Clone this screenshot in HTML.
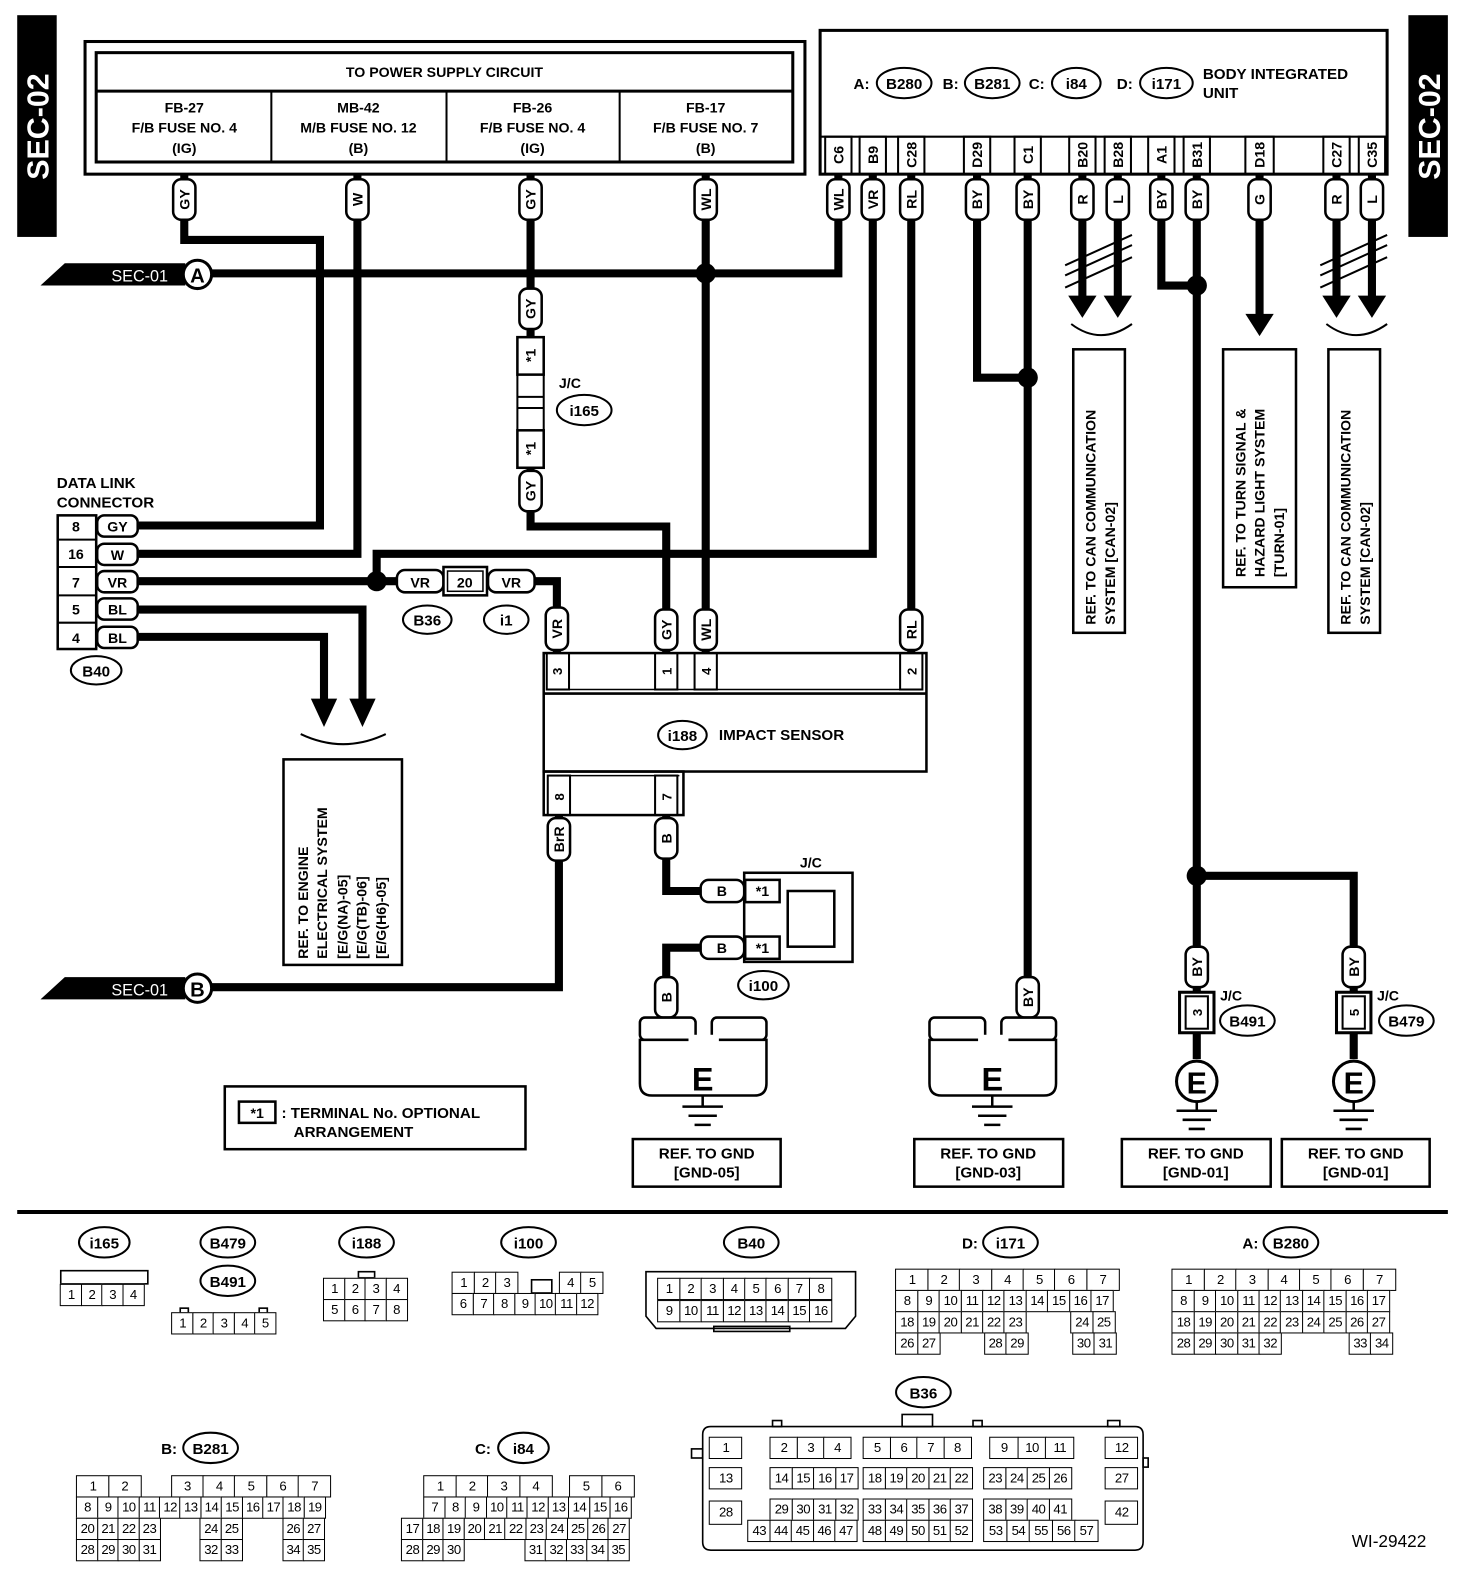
<!DOCTYPE html>
<html><head><meta charset="utf-8"><style>
html,body{margin:0;padding:0;background:#fff;width:1472px;height:1584px;overflow:hidden}
#w{position:absolute;left:0;top:0;width:1472px;height:1565px;transform:scale(1.0125,1.0125);transform-origin:0 0;font-family:"Liberation Sans",sans-serif}
svg{position:absolute;left:0;top:0}
text{font-family:"Liberation Sans",sans-serif;font-weight:bold;fill:#000}
.r{position:absolute;display:flex;height:21px}
.r span{display:block;box-sizing:border-box;height:22px;border:1.6px solid #000;margin-left:-1.6px;text-align:center;font-size:13px;line-height:19px;font-family:"Liberation Sans",sans-serif;background:#fff;letter-spacing:-0.5px}
.r span.g{border:none;background:transparent}
</style></head><body><div id="w">
<svg width="1472" height="1565" viewBox="0 0 1472 1565">
<defs>
<g id="gl"><line x1="-20" y1="0" x2="20" y2="0" stroke="#000" stroke-width="2.5"/><line x1="-14" y1="9" x2="14" y2="9" stroke="#000" stroke-width="2.5"/><line x1="-8" y1="18" x2="8" y2="18" stroke="#000" stroke-width="2.5"/></g>
</defs>
<rect x="17" y="15" width="39" height="219" fill="#000"/>
<text transform="translate(48,125) rotate(-90)" text-anchor="middle" font-size="30" style="fill:#fff">SEC-02</text>
<rect x="1391" y="15" width="39" height="219" fill="#000"/>
<text transform="translate(1422,125) rotate(-90)" text-anchor="middle" font-size="30" style="fill:#fff">SEC-02</text>

<rect x="84" y="41" width="711" height="131" fill="none" stroke="#000" stroke-width="3"/>
<rect x="95" y="52" width="688" height="108" fill="none" stroke="#000" stroke-width="3"/>
<line x1="95" y1="90" x2="783" y2="90" stroke="#000" stroke-width="3"/>
<line x1="268" y1="90" x2="268" y2="160" stroke="#000" stroke-width="2"/>
<line x1="441" y1="90" x2="441" y2="160" stroke="#000" stroke-width="2"/>
<line x1="612" y1="90" x2="612" y2="160" stroke="#000" stroke-width="2"/>
<g font-size="14" text-anchor="middle">
<text x="439" y="76">TO POWER SUPPLY CIRCUIT</text>
<text x="182" y="111">FB-27</text><text x="182" y="131">F/B FUSE NO. 4</text><text x="182" y="151">(IG)</text>
<text x="354" y="111">MB-42</text><text x="354" y="131">M/B FUSE NO. 12</text><text x="354" y="151">(B)</text>
<text x="526" y="111">FB-26</text><text x="526" y="131">F/B FUSE NO. 4</text><text x="526" y="151">(IG)</text>
<text x="697" y="111">FB-17</text><text x="697" y="131">F/B FUSE NO. 7</text><text x="697" y="151">(B)</text>
</g>

<rect x="810" y="30" width="560" height="142" fill="none" stroke="#000" stroke-width="3"/>
<line x1="810" y1="135" x2="1370" y2="135" stroke="#000" stroke-width="2"/>
<g font-size="15">
<text x="843" y="88">A:</text><ellipse cx="893" cy="82" rx="27" ry="15" fill="none" stroke="#000" stroke-width="2"/><text x="893" y="88" text-anchor="middle">B280</text>
<text x="931" y="88">B:</text><ellipse cx="980" cy="82" rx="27" ry="15" fill="none" stroke="#000" stroke-width="2"/><text x="980" y="88" text-anchor="middle">B281</text>
<text x="1016" y="88">C:</text><ellipse cx="1063" cy="82" rx="24" ry="15" fill="none" stroke="#000" stroke-width="2"/><text x="1063" y="88" text-anchor="middle">i84</text>
<text x="1103" y="88">D:</text><ellipse cx="1152" cy="82" rx="26" ry="15" fill="none" stroke="#000" stroke-width="2"/><text x="1152" y="88" text-anchor="middle">i171</text>
<text x="1188" y="78">BODY INTEGRATED</text><text x="1188" y="97">UNIT</text>
</g>
<g fill="none" stroke="#000" stroke-width="2">
<rect x="815" y="135" width="26" height="37"/><rect x="849" y="135" width="26" height="37"/><rect x="887" y="135" width="26" height="37"/>
<rect x="952" y="135" width="26" height="37"/><rect x="1002" y="135" width="26" height="37"/><rect x="1056" y="135" width="26" height="37"/>
<rect x="1091" y="135" width="26" height="37"/><rect x="1134" y="135" width="26" height="37"/><rect x="1169" y="135" width="26" height="37"/>
<rect x="1230" y="135" width="28" height="37"/><rect x="1307" y="135" width="26" height="37"/><rect x="1342" y="135" width="26" height="37"/>
</g>
<g font-size="14" text-anchor="middle">
<text transform="translate(833,153) rotate(-90)">C6</text><text transform="translate(867,153) rotate(-90)">B9</text><text transform="translate(905,153) rotate(-90)">C28</text>
<text transform="translate(970,153) rotate(-90)">D29</text><text transform="translate(1020,153) rotate(-90)">C1</text><text transform="translate(1074,153) rotate(-90)">B20</text>
<text transform="translate(1109,153) rotate(-90)">B28</text><text transform="translate(1152,153) rotate(-90)">A1</text><text transform="translate(1187,153) rotate(-90)">B31</text>
<text transform="translate(1249,153) rotate(-90)">D18</text><text transform="translate(1325,153) rotate(-90)">C27</text><text transform="translate(1360,153) rotate(-90)">C35</text>
</g>

<g fill="none" stroke="#000" stroke-width="8" stroke-linejoin="miter">
<path d="M182,172 V237 H316 V519 H137"/>
<path d="M353,172 V547 H137"/>
<path d="M524,172 V335"/>
<path d="M524,460 V520 H658 V645"/>
<path d="M697,172 V645"/>
<path d="M180,270 H828 V172"/>
<path d="M862,172 V547 H372 V574"/>
<path d="M900,172 V645"/>
<path d="M137,574 H392"/>
<path d="M528,574 H550 V645"/>
<path d="M137,602 H358 V692"/>
<path d="M137,629 H320 V692"/>
<path d="M552,805 V975 H180"/>
<path d="M658,805 V880 H692"/>
<path d="M692,936 H658 V1005"/>
<path d="M965,172 V373 H1015"/>
<path d="M1015,172 V1005"/>
<path d="M1069,172 V295"/><path d="M1104,172 V295"/>
<path d="M1147,172 V282 H1182"/>
<path d="M1182,172 V865 H1337 V980"/>
<path d="M1182,865 V980"/>
<path d="M1244,172 V312"/>
<path d="M1320,172 V295"/><path d="M1355,172 V295"/>
<path d="M1182,1020 V1046"/><path d="M1337,1020 V1046"/>
</g>
<g fill="#000">
<circle cx="697" cy="270" r="10"/><circle cx="372" cy="574" r="10"/><circle cx="1015" cy="373" r="10"/>
<circle cx="1182" cy="282" r="10"/><circle cx="1182" cy="865" r="10"/>
<polygon points="345,690 371,690 358,718"/><polygon points="307,690 333,690 320,718"/>
<polygon points="1055,292 1083,292 1069,314"/><polygon points="1090,292 1118,292 1104,314"/>
<polygon points="1230,310 1258,310 1244,332"/>
<polygon points="1306,292 1334,292 1320,314"/><polygon points="1341,292 1369,292 1355,314"/>
</g>
<g fill="none" stroke="#000" stroke-width="2">
<path d="M297,725 Q339,745 381,725"/>
<path d="M1058,320 Q1087,342 1118,320"/>
<path d="M1310,320 Q1339,342 1370,320"/>
<path d="M1052,262 L1118,232 M1052,272 L1118,242 M1052,284 L1118,254"/>
<path d="M1304,262 L1370,232 M1304,272 L1370,242 M1304,284 L1370,254"/>
</g>

<polygon points="40,282 64,260 183,260 183,282" fill="#000"/>
<text x="138" y="278" font-size="16" text-anchor="middle" style="fill:#fff;font-weight:normal">SEC-01</text>
<circle cx="195" cy="271" r="14" fill="#fff" stroke="#000" stroke-width="3"/><text x="195" y="279" font-size="20" text-anchor="middle">A</text>
<polygon points="40,987 64,965 183,965 183,987" fill="#000"/>
<text x="138" y="983" font-size="16" text-anchor="middle" style="fill:#fff;font-weight:normal">SEC-01</text>
<circle cx="195" cy="976" r="14" fill="#fff" stroke="#000" stroke-width="3"/><text x="195" y="984" font-size="20" text-anchor="middle">B</text>

<g fill="#fff" stroke="#000" stroke-width="2.5">
<rect x="171" y="177" width="22" height="40" rx="8"/><rect x="342" y="177" width="22" height="40" rx="8"/>
<rect x="513" y="177" width="22" height="40" rx="8"/><rect x="686" y="177" width="22" height="40" rx="8"/>
<rect x="817" y="177" width="22" height="40" rx="8"/><rect x="851" y="177" width="22" height="40" rx="8"/>
<rect x="889" y="177" width="22" height="40" rx="8"/><rect x="954" y="177" width="22" height="40" rx="8"/>
<rect x="1004" y="177" width="22" height="40" rx="8"/><rect x="1058" y="177" width="22" height="40" rx="8"/>
<rect x="1093" y="177" width="22" height="40" rx="8"/><rect x="1136" y="177" width="22" height="40" rx="8"/>
<rect x="1171" y="177" width="22" height="40" rx="8"/><rect x="1233" y="177" width="22" height="40" rx="8"/>
<rect x="1309" y="177" width="22" height="40" rx="8"/><rect x="1344" y="177" width="22" height="40" rx="8"/>
<rect x="513" y="285" width="22" height="40" rx="8"/><rect x="513" y="465" width="22" height="40" rx="8"/>
<rect x="539" y="600" width="22" height="42" rx="8"/><rect x="647" y="602" width="22" height="40" rx="8"/>
<rect x="686" y="602" width="22" height="40" rx="8"/><rect x="889" y="602" width="22" height="40" rx="8"/>
<rect x="541" y="808" width="22" height="42" rx="8"/><rect x="647" y="808" width="22" height="40" rx="8"/>
<rect x="647" y="965" width="22" height="40" rx="8"/><rect x="1004" y="965" width="22" height="40" rx="8"/>
<rect x="1171" y="935" width="22" height="40" rx="8"/><rect x="1326" y="935" width="22" height="40" rx="8"/>
</g>
<g font-size="14" text-anchor="middle">
<text transform="translate(187,197) rotate(-90)">GY</text><text transform="translate(358,197) rotate(-90)">W</text>
<text transform="translate(529,197) rotate(-90)">GY</text><text transform="translate(702,197) rotate(-90)">WL</text>
<text transform="translate(833,197) rotate(-90)">WL</text><text transform="translate(867,197) rotate(-90)">VR</text>
<text transform="translate(905,197) rotate(-90)">RL</text><text transform="translate(970,197) rotate(-90)">BY</text>
<text transform="translate(1020,197) rotate(-90)">BY</text><text transform="translate(1074,197) rotate(-90)">R</text>
<text transform="translate(1109,197) rotate(-90)">L</text><text transform="translate(1152,197) rotate(-90)">BY</text>
<text transform="translate(1187,197) rotate(-90)">BY</text><text transform="translate(1249,197) rotate(-90)">G</text>
<text transform="translate(1325,197) rotate(-90)">R</text><text transform="translate(1360,197) rotate(-90)">L</text>
<text transform="translate(529,305) rotate(-90)">GY</text><text transform="translate(529,485) rotate(-90)">GY</text>
<text transform="translate(555,621) rotate(-90)">VR</text><text transform="translate(663,622) rotate(-90)">GY</text>
<text transform="translate(702,622) rotate(-90)">WL</text><text transform="translate(905,622) rotate(-90)">RL</text>
<text transform="translate(557,829) rotate(-90)">BrR</text><text transform="translate(663,828) rotate(-90)">B</text>
<text transform="translate(663,985) rotate(-90)">B</text><text transform="translate(1020,985) rotate(-90)">BY</text>
<text transform="translate(1187,955) rotate(-90)">BY</text><text transform="translate(1342,955) rotate(-90)">BY</text>
</g>

<g fill="#fff" stroke="#000" stroke-width="2.5">
<rect x="511" y="333" width="26" height="37"/><rect x="511" y="425" width="26" height="37"/>
</g>
<line x1="511" y1="370" x2="511" y2="425" stroke="#000" stroke-width="2"/><line x1="537" y1="370" x2="537" y2="425" stroke="#000" stroke-width="2"/>
<line x1="511" y1="392" x2="537" y2="392" stroke="#000" stroke-width="2"/><line x1="511" y1="403" x2="537" y2="403" stroke="#000" stroke-width="2"/>
<text transform="translate(529,351) rotate(-90)" font-size="14" text-anchor="middle">*1</text>
<text transform="translate(529,443) rotate(-90)" font-size="14" text-anchor="middle">*1</text>
<text x="552" y="383" font-size="14">J/C</text>
<ellipse cx="577" cy="405" rx="27" ry="15" fill="none" stroke="#000" stroke-width="2"/><text x="577" y="411" font-size="15" text-anchor="middle">i165</text>

<text x="56" y="482" font-size="15">DATA LINK</text><text x="56" y="501" font-size="15">CONNECTOR</text>
<rect x="57" y="509" width="38" height="132" fill="none" stroke="#000" stroke-width="2.5"/>
<g stroke="#000" stroke-width="2"><line x1="57" y1="533" x2="95" y2="533"/><line x1="57" y1="560" x2="95" y2="560"/><line x1="57" y1="588" x2="95" y2="588"/><line x1="57" y1="615" x2="95" y2="615"/></g>
<g fill="#fff" stroke="#000" stroke-width="2.5">
<rect x="96" y="509" width="40" height="21" rx="7"/><rect x="96" y="537" width="40" height="21" rx="7"/><rect x="96" y="564" width="40" height="21" rx="7"/>
<rect x="96" y="591" width="40" height="21" rx="7"/><rect x="96" y="619" width="40" height="21" rx="7"/>
</g>
<g font-size="14" text-anchor="middle">
<text x="75" y="525">8</text><text x="75" y="552">16</text><text x="75" y="580">7</text><text x="75" y="607">5</text><text x="75" y="635">4</text>
<text x="116" y="525">GY</text><text x="116" y="553">W</text><text x="116" y="580">VR</text><text x="116" y="607">BL</text><text x="116" y="635">BL</text>
</g>
<ellipse cx="95" cy="662" rx="25" ry="14" fill="none" stroke="#000" stroke-width="2"/><text x="95" y="668" font-size="15" text-anchor="middle">B40</text>

<g fill="#fff" stroke="#000" stroke-width="2.5">
<rect x="392" y="563" width="46" height="22" rx="8"/><rect x="482" y="563" width="46" height="22" rx="8"/>
<rect x="438" y="560" width="43" height="28"/></g>
<rect x="442" y="564" width="35" height="20" fill="none" stroke="#000" stroke-width="1.5"/>
<g font-size="14" text-anchor="middle"><text x="415" y="580">VR</text><text x="459" y="580">20</text><text x="505" y="580">VR</text></g>
<ellipse cx="422" cy="612" rx="24" ry="14" fill="none" stroke="#000" stroke-width="2"/><text x="422" y="618" font-size="15" text-anchor="middle">B36</text>
<ellipse cx="500" cy="612" rx="22" ry="14" fill="none" stroke="#000" stroke-width="2"/><text x="500" y="618" font-size="15" text-anchor="middle">i1</text>

<rect x="280" y="750" width="117" height="203" fill="none" stroke="#000" stroke-width="2.5"/>
<g font-size="14">
<text transform="translate(304,947) rotate(-90)">REF. TO ENGINE</text>
<text transform="translate(323,947) rotate(-90)">ELECTRICAL SYSTEM</text>
<text transform="translate(343,947) rotate(-90)">[E/G(NA)-05]</text>
<text transform="translate(362,947) rotate(-90)">[E/G(TB)-06]</text>
<text transform="translate(381,947) rotate(-90)">[E/G(H6)-05]</text>
</g>

<rect x="537" y="645" width="378" height="117" fill="none" stroke="#000" stroke-width="2.5"/>
<line x1="537" y1="685" x2="915" y2="685" stroke="#000" stroke-width="2.5"/>
<line x1="541" y1="681" x2="911" y2="681" stroke="#000" stroke-width="1.5"/>
<g fill="none" stroke="#000" stroke-width="2"><rect x="540" y="645" width="22" height="36"/><rect x="647" y="645" width="22" height="36"/><rect x="686" y="645" width="22" height="36"/><rect x="889" y="645" width="22" height="36"/></g>
<rect x="537" y="762" width="138" height="43" fill="none" stroke="#000" stroke-width="2.5"/>
<line x1="541" y1="766" x2="671" y2="766" stroke="#000" stroke-width="1.5"/>
<g fill="none" stroke="#000" stroke-width="2"><rect x="541" y="766" width="22" height="39"/><rect x="647" y="766" width="22" height="39"/></g>
<g font-size="13" text-anchor="middle">
<text transform="translate(555,663) rotate(-90)">3</text><text transform="translate(663,663) rotate(-90)">1</text>
<text transform="translate(702,663) rotate(-90)">4</text><text transform="translate(905,663) rotate(-90)">2</text>
<text transform="translate(557,787) rotate(-90)">8</text><text transform="translate(663,787) rotate(-90)">7</text>
</g>
<ellipse cx="674" cy="726" rx="24" ry="14" fill="none" stroke="#000" stroke-width="2"/><text x="674" y="732" font-size="15" text-anchor="middle">i188</text>
<text x="710" y="731" font-size="15">IMPACT SENSOR</text>

<rect x="735" y="862" width="107" height="88" fill="none" stroke="#000" stroke-width="2.5"/>
<rect x="778" y="880" width="46" height="55" fill="none" stroke="#000" stroke-width="2.5"/>
<g fill="#fff" stroke="#000" stroke-width="2.5">
<rect x="692" y="869" width="43" height="22" rx="8"/><rect x="692" y="925" width="43" height="22" rx="8"/>
<rect x="736" y="869" width="34" height="22"/><rect x="736" y="925" width="34" height="22"/></g>
<g font-size="14" text-anchor="middle"><text x="713" y="885">B</text><text x="713" y="941">B</text><text x="753" y="885">*1</text><text x="753" y="941">*1</text></g>
<text x="790" y="857" font-size="14">J/C</text>
<ellipse cx="754" cy="973" rx="25" ry="14" fill="none" stroke="#000" stroke-width="2"/><text x="754" y="979" font-size="15" text-anchor="middle">i100</text>

<g fill="#fff" stroke="#000" stroke-width="2.5">
<rect x="632" y="1005" width="55" height="22" rx="5"/><rect x="703" y="1005" width="54" height="22" rx="5"/>
<path d="M632,1027 H757 V1070 Q757,1082 745,1082 H644 Q632,1082 632,1070 Z"/>
<rect x="918" y="1005" width="55" height="22" rx="5"/><rect x="989" y="1005" width="54" height="22" rx="5"/>
<path d="M918,1027 H1043 V1070 Q1043,1082 1031,1082 H930 Q918,1082 918,1070 Z"/>
</g>
<rect x="680" y="1022" width="30" height="10" fill="#fff"/><rect x="966" y="1022" width="30" height="10" fill="#fff"/>
<text x="694" y="1077" font-size="32" text-anchor="middle">E</text>
<text x="980" y="1077" font-size="32" text-anchor="middle">E</text>
<use href="#gl" x="694" y="1093"/><use href="#gl" x="980" y="1093"/>
<use href="#gl" x="1182" y="1097"/><use href="#gl" x="1337" y="1097"/>
<line x1="694" y1="1082" x2="694" y2="1093" stroke="#000" stroke-width="2.5"/>
<line x1="980" y1="1082" x2="980" y2="1093" stroke="#000" stroke-width="2.5"/>
<line x1="1182" y1="1088" x2="1182" y2="1097" stroke="#000" stroke-width="2.5"/>
<line x1="1337" y1="1088" x2="1337" y2="1097" stroke="#000" stroke-width="2.5"/>

<g fill="#fff" stroke="#000" stroke-width="3">
<circle cx="1182" cy="1068" r="20"/><circle cx="1337" cy="1068" r="20"/>
<rect x="1165" y="980" width="34" height="40"/><rect x="1320" y="980" width="34" height="40"/></g>
<rect x="1171" y="984" width="22" height="32" fill="none" stroke="#000" stroke-width="2"/>
<rect x="1326" y="984" width="22" height="32" fill="none" stroke="#000" stroke-width="2"/>
<text transform="translate(1187,1000) rotate(-90)" font-size="13" text-anchor="middle">3</text>
<text transform="translate(1342,1000) rotate(-90)" font-size="13" text-anchor="middle">5</text>
<text x="1182" y="1080" font-size="30" text-anchor="middle">E</text>
<text x="1337" y="1080" font-size="30" text-anchor="middle">E</text>
<text x="1205" y="988" font-size="14">J/C</text><text x="1360" y="988" font-size="14">J/C</text>
<ellipse cx="1232" cy="1008" rx="27" ry="15" fill="none" stroke="#000" stroke-width="2"/><text x="1232" y="1014" font-size="15" text-anchor="middle">B491</text>
<ellipse cx="1389" cy="1008" rx="27" ry="15" fill="none" stroke="#000" stroke-width="2"/><text x="1389" y="1014" font-size="15" text-anchor="middle">B479</text>

<g fill="none" stroke="#000" stroke-width="2.5">
<rect x="625" y="1125" width="146" height="47"/><rect x="903" y="1125" width="147" height="47"/>
<rect x="1108" y="1125" width="147" height="47"/><rect x="1266" y="1125" width="146" height="47"/></g>
<g font-size="15" text-anchor="middle">
<text x="698" y="1144">REF. TO GND</text><text x="698" y="1163">[GND-05]</text>
<text x="976" y="1144">REF. TO GND</text><text x="976" y="1163">[GND-03]</text>
<text x="1181" y="1144">REF. TO GND</text><text x="1181" y="1163">[GND-01]</text>
<text x="1339" y="1144">REF. TO GND</text><text x="1339" y="1163">[GND-01]</text>
</g>

<g fill="none" stroke="#000" stroke-width="2.5">
<rect x="1060" y="345" width="51" height="280"/><rect x="1208" y="345" width="72" height="235"/><rect x="1312" y="345" width="51" height="280"/></g>
<g font-size="14">
<text transform="translate(1082,617) rotate(-90)">REF. TO CAN COMMUNICATION</text>
<text transform="translate(1101,617) rotate(-90)">SYSTEM [CAN-02]</text>
<text transform="translate(1230,570) rotate(-90)">REF. TO TURN SIGNAL &amp;</text>
<text transform="translate(1249,570) rotate(-90)">HAZARD LIGHT SYSTEM</text>
<text transform="translate(1268,570) rotate(-90)">[TURN-01]</text>
<text transform="translate(1334,617) rotate(-90)">REF. TO CAN COMMUNICATION</text>
<text transform="translate(1353,617) rotate(-90)">SYSTEM [CAN-02]</text>
</g>

<rect x="222" y="1073" width="297" height="62" fill="none" stroke="#000" stroke-width="2.5"/>
<rect x="236" y="1088" width="36" height="21" fill="none" stroke="#000" stroke-width="2.5"/>
<text x="254" y="1104" font-size="14" text-anchor="middle">*1</text>
<text x="278" y="1104" font-size="15">: TERMINAL No. OPTIONAL</text>
<text x="290" y="1123" font-size="15">ARRANGEMENT</text>

<line x1="17" y1="1197" x2="1430" y2="1197" stroke="#000" stroke-width="4"/>

<g font-size="15" text-anchor="middle" fill="none">
<ellipse cx="103" cy="1227" rx="25" ry="15" stroke="#000" stroke-width="2" fill="none"/><text x="103" y="1233">i165</text>
<ellipse cx="225" cy="1227" rx="27" ry="15" stroke="#000" stroke-width="2" fill="none"/><text x="225" y="1233">B479</text>
<ellipse cx="225" cy="1265" rx="27" ry="15" stroke="#000" stroke-width="2" fill="none"/><text x="225" y="1271">B491</text>
<ellipse cx="362" cy="1227" rx="27" ry="15" stroke="#000" stroke-width="2" fill="none"/><text x="362" y="1233">i188</text>
<ellipse cx="522" cy="1227" rx="27" ry="15" stroke="#000" stroke-width="2" fill="none"/><text x="522" y="1233">i100</text>
<ellipse cx="742" cy="1227" rx="27" ry="15" stroke="#000" stroke-width="2" fill="none"/><text x="742" y="1233">B40</text>
<text x="958" y="1233">D:</text><ellipse cx="998" cy="1227" rx="27" ry="15" stroke="#000" stroke-width="2" fill="none"/><text x="998" y="1233">i171</text>
<text x="1235" y="1233">A:</text><ellipse cx="1275" cy="1227" rx="27" ry="15" stroke="#000" stroke-width="2" fill="none"/><text x="1275" y="1233">B280</text>
<text x="167" y="1436">B:</text><ellipse cx="208" cy="1430" rx="27" ry="15" stroke="#000" stroke-width="2" fill="none"/><text x="208" y="1436">B281</text>
<text x="477" y="1436">C:</text><ellipse cx="517" cy="1430" rx="25" ry="15" stroke="#000" stroke-width="2" fill="none"/><text x="517" y="1436">i84</text>
<ellipse cx="912" cy="1375" rx="27" ry="15" stroke="#000" stroke-width="2" fill="none"/><text x="912" y="1381">B36</text>
</g>
<rect x="60" y="1255" width="86" height="13" fill="none" stroke="#000" stroke-width="1.6"/>
<g fill="none" stroke="#000" stroke-width="1.6">
<rect x="178" y="1292" width="8" height="5"/><rect x="256" y="1292" width="8" height="5"/>
<rect x="354" y="1256" width="16" height="6"/>
<rect x="525" y="1264" width="20" height="13"/>
<path d="M638,1256 H845 V1300 L835,1312 H648 L638,1300 Z"/><rect x="705" y="1310" width="75" height="5"/>
<path d="M694,1417 Q694,1409 702,1409 H1121 Q1129,1409 1129,1417 V1523 Q1129,1531 1121,1531 H702 Q694,1531 694,1523 Z"/>
<rect x="763" y="1403" width="9" height="6"/><rect x="891" y="1397" width="30" height="12"/><rect x="961" y="1403" width="9" height="6"/><rect x="1094" y="1403" width="12" height="6"/>
<rect x="683" y="1431" width="11" height="9"/><rect x="1129" y="1440" width="5" height="9"/>
</g>
<text x="1335" y="1528" font-size="17" style="font-weight:normal">WI-29422</text>
</svg>

<div class="r" style="left:61px;top:1268px"><span style="width:22px">1</span><span style="width:22px">2</span><span style="width:22px">3</span><span style="width:22px">4</span></div>
<div class="r" style="left:171px;top:1296px"><span style="width:22px">1</span><span style="width:22px">2</span><span style="width:22px">3</span><span style="width:22px">4</span><span style="width:22px">5</span></div>
<div class="r" style="left:321px;top:1262px"><span style="width:22px">1</span><span style="width:22px">2</span><span style="width:22px">3</span><span style="width:22px">4</span></div>
<div class="r" style="left:321px;top:1283px"><span style="width:22px">5</span><span style="width:22px">6</span><span style="width:22px">7</span><span style="width:22px">8</span></div>
<div class="r" style="left:448px;top:1256px"><span style="width:23px">1</span><span style="width:23px">2</span><span style="width:23px">3</span><span class="g" style="width:43px"></span><span style="width:23px">4</span><span style="width:23px">5</span></div>
<div class="r" style="left:448px;top:1277px"><span style="width:22px">6</span><span style="width:22px">7</span><span style="width:22px">8</span><span style="width:22px">9</span><span style="width:22px">10</span><span style="width:22px">11</span><span style="width:22px">12</span></div>
<div class="r" style="left:651px;top:1262px"><span style="width:23px">1</span><span style="width:23px">2</span><span style="width:23px">3</span><span style="width:23px">4</span><span style="width:23px">5</span><span style="width:23px">6</span><span style="width:23px">7</span><span style="width:23px">8</span></div>
<div class="r" style="left:651px;top:1284px"><span style="width:23px">9</span><span style="width:23px">10</span><span style="width:23px">11</span><span style="width:23px">12</span><span style="width:23px">13</span><span style="width:23px">14</span><span style="width:23px">15</span><span style="width:23px">16</span></div>
<div class="r" style="left:886px;top:1253px"><span style="width:33px">1</span><span style="width:33px">2</span><span style="width:33px">3</span><span style="width:33px">4</span><span style="width:33px">5</span><span style="width:33px">6</span><span style="width:33px">7</span></div>
<div class="r" style="left:886px;top:1274px"><span style="width:23px">8</span><span style="width:23px">9</span><span style="width:23px">10</span><span style="width:23px">11</span><span style="width:23px">12</span><span style="width:23px">13</span><span style="width:23px">14</span><span style="width:23px">15</span><span style="width:23px">16</span><span style="width:23px">17</span></div>
<div class="r" style="left:886px;top:1295px"><span style="width:23px">18</span><span style="width:23px">19</span><span style="width:23px">20</span><span style="width:23px">21</span><span style="width:23px">22</span><span style="width:23px">23</span><span class="g" style="width:46px"></span><span style="width:23px">24</span><span style="width:23px">25</span></div>
<div class="r" style="left:886px;top:1316px"><span style="width:23px">26</span><span style="width:23px">27</span><span class="g" style="width:46px"></span><span style="width:23px">28</span><span style="width:23px">29</span><span class="g" style="width:46px"></span><span style="width:23px">30</span><span style="width:23px">31</span></div>
<div class="r" style="left:1159px;top:1253px"><span style="width:33px">1</span><span style="width:33px">2</span><span style="width:33px">3</span><span style="width:33px">4</span><span style="width:33px">5</span><span style="width:33px">6</span><span style="width:33px">7</span></div>
<div class="r" style="left:1159px;top:1274px"><span style="width:23px">8</span><span style="width:23px">9</span><span style="width:23px">10</span><span style="width:23px">11</span><span style="width:23px">12</span><span style="width:23px">13</span><span style="width:23px">14</span><span style="width:23px">15</span><span style="width:23px">16</span><span style="width:23px">17</span></div>
<div class="r" style="left:1159px;top:1295px"><span style="width:23px">18</span><span style="width:23px">19</span><span style="width:23px">20</span><span style="width:23px">21</span><span style="width:23px">22</span><span style="width:23px">23</span><span style="width:23px">24</span><span style="width:23px">25</span><span style="width:23px">26</span><span style="width:23px">27</span></div>
<div class="r" style="left:1159px;top:1316px"><span style="width:23px">28</span><span style="width:23px">29</span><span style="width:23px">30</span><span style="width:23px">31</span><span style="width:23px">32</span><span class="g" style="width:69px"></span><span style="width:23px">33</span><span style="width:23px">34</span></div>
<div class="r" style="left:77px;top:1457px"><span style="width:33px">1</span><span style="width:33px">2</span><span class="g" style="width:32px"></span><span style="width:33px">3</span><span style="width:33px">4</span><span style="width:33px">5</span><span style="width:33px">6</span><span style="width:33px">7</span></div>
<div class="r" style="left:77px;top:1478px"><span style="width:22px">8</span><span style="width:22px">9</span><span style="width:22px">10</span><span style="width:22px">11</span><span style="width:22px">12</span><span style="width:22px">13</span><span style="width:22px">14</span><span style="width:22px">15</span><span style="width:22px">16</span><span style="width:22px">17</span><span style="width:22px">18</span><span style="width:22px">19</span></div>
<div class="r" style="left:77px;top:1499px"><span style="width:22px">20</span><span style="width:22px">21</span><span style="width:22px">22</span><span style="width:22px">23</span><span class="g" style="width:42px"></span><span style="width:22px">24</span><span style="width:22px">25</span><span class="g" style="width:42px"></span><span style="width:22px">26</span><span style="width:22px">27</span></div>
<div class="r" style="left:77px;top:1520px"><span style="width:22px">28</span><span style="width:22px">29</span><span style="width:22px">30</span><span style="width:22px">31</span><span class="g" style="width:42px"></span><span style="width:22px">32</span><span style="width:22px">33</span><span class="g" style="width:42px"></span><span style="width:22px">34</span><span style="width:22px">35</span></div>
<div class="r" style="left:420px;top:1457px"><span style="width:33px">1</span><span style="width:33px">2</span><span style="width:33px">3</span><span style="width:33px">4</span><span class="g" style="width:20px"></span><span style="width:33px">5</span><span style="width:33px">6</span></div>
<div class="r" style="left:420px;top:1478px"><span style="width:22px">7</span><span style="width:22px">8</span><span style="width:22px">9</span><span style="width:22px">10</span><span style="width:22px">11</span><span style="width:22px">12</span><span style="width:22px">13</span><span style="width:22px">14</span><span style="width:22px">15</span><span style="width:22px">16</span></div>
<div class="r" style="left:398px;top:1499px"><span style="width:22px">17</span><span style="width:22px">18</span><span style="width:22px">19</span><span style="width:22px">20</span><span style="width:22px">21</span><span style="width:22px">22</span><span style="width:22px">23</span><span style="width:22px">24</span><span style="width:22px">25</span><span style="width:22px">26</span><span style="width:22px">27</span></div>
<div class="r" style="left:398px;top:1520px"><span style="width:22px">28</span><span style="width:22px">29</span><span style="width:22px">30</span><span class="g" style="width:62px"></span><span style="width:22px">31</span><span style="width:22px">32</span><span style="width:22px">33</span><span style="width:22px">34</span><span style="width:22px">35</span></div>
<div class="r" style="left:702px;top:1419px"><span style="width:33px">1</span></div>
<div class="r" style="left:702px;top:1449px"><span style="width:33px">13</span></div>
<div class="r" style="left:702px;top:1482px"><span style="width:33px;height:24px;line-height:22px">28</span></div>
<div class="r" style="left:1093px;top:1419px"><span style="width:33px">12</span></div>
<div class="r" style="left:1093px;top:1449px"><span style="width:33px">27</span></div>
<div class="r" style="left:1093px;top:1482px"><span style="width:33px;height:24px;line-height:22px">42</span></div>
<div class="r" style="left:762px;top:1419px"><span style="width:28px">2</span><span style="width:28px">3</span><span style="width:28px">4</span></div>
<div class="r" style="left:854px;top:1419px"><span style="width:28px">5</span><span style="width:28px">6</span><span style="width:28px">7</span><span style="width:28px">8</span></div>
<div class="r" style="left:979px;top:1419px"><span style="width:29px">9</span><span style="width:29px">10</span><span style="width:29px">11</span></div>
<div class="r" style="left:762px;top:1449px"><span style="width:23px">14</span><span style="width:23px">15</span><span style="width:23px">16</span><span style="width:23px">17</span></div>
<div class="r" style="left:854px;top:1449px"><span style="width:23px">18</span><span style="width:23px">19</span><span style="width:23px">20</span><span style="width:23px">21</span><span style="width:23px">22</span></div>
<div class="r" style="left:973px;top:1449px"><span style="width:23px">23</span><span style="width:23px">24</span><span style="width:23px">25</span><span style="width:23px">26</span></div>
<div class="r" style="left:762px;top:1480px"><span style="width:23px">29</span><span style="width:23px">30</span><span style="width:23px">31</span><span style="width:23px">32</span></div>
<div class="r" style="left:854px;top:1480px"><span style="width:23px">33</span><span style="width:23px">34</span><span style="width:23px">35</span><span style="width:23px">36</span><span style="width:23px">37</span></div>
<div class="r" style="left:973px;top:1480px"><span style="width:23px">38</span><span style="width:23px">39</span><span style="width:23px">40</span><span style="width:23px">41</span></div>
<div class="r" style="left:740px;top:1501px"><span style="width:23px">43</span><span style="width:23px">44</span><span style="width:23px">45</span><span style="width:23px">46</span><span style="width:23px">47</span></div>
<div class="r" style="left:854px;top:1501px"><span style="width:23px">48</span><span style="width:23px">49</span><span style="width:23px">50</span><span style="width:23px">51</span><span style="width:23px">52</span></div>
<div class="r" style="left:973px;top:1501px"><span style="width:24px">53</span><span style="width:24px">54</span><span style="width:24px">55</span><span style="width:24px">56</span><span style="width:24px">57</span></div>
</div></body></html>
